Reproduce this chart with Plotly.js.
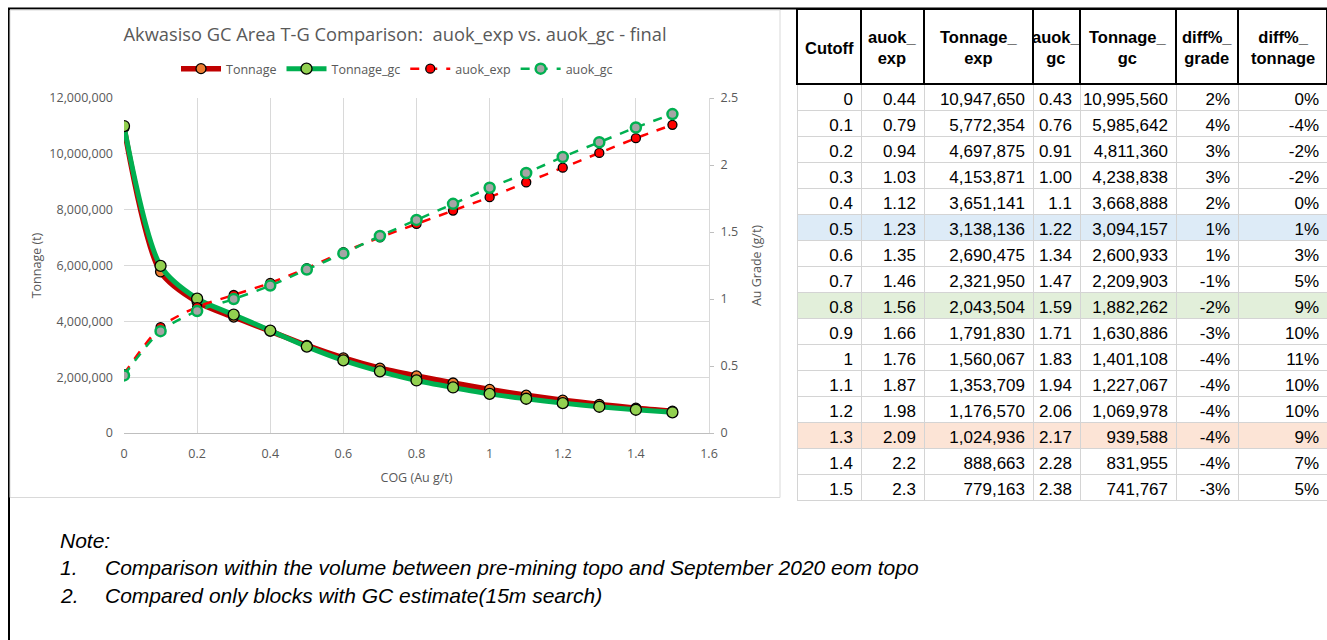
<!DOCTYPE html>
<html>
<head>
<meta charset="utf-8">
<script src="https://cdn.plot.ly/plotly-3.0.1.min.js"></script>
<style>html,body{margin:0;padding:0;background:#fff;}#chart{width:1327px;height:640px;}</style>
</head>
<body>
<div id="chart"></div>
<script>
// ---- data ----
const cutoff = [0, 0.1, 0.2, 0.3, 0.4, 0.5, 0.6, 0.7, 0.8, 0.9, 1, 1.1, 1.2, 1.3, 1.4, 1.5];
const auokExp = [0.44, 0.79, 0.94, 1.03, 1.12, 1.23, 1.35, 1.46, 1.56, 1.66, 1.76, 1.87, 1.98, 2.09, 2.2, 2.3];
const tonnageExp = [10947650, 5772354, 4697875, 4153871, 3651141, 3138136, 2690475, 2321950, 2043504, 1791830, 1560067, 1353709, 1176570, 1024936, 888663, 779163];
const auokGc = [0.43, 0.76, 0.91, 1.00, 1.1, 1.22, 1.34, 1.47, 1.59, 1.71, 1.83, 1.94, 2.06, 2.17, 2.28, 2.38];
const auokGcText = ["0.43", "0.76", "0.91", "1.00", "1.1", "1.22", "1.34", "1.47", "1.59", "1.71", "1.83", "1.94", "2.06", "2.17", "2.28", "2.38"];
const tonnageGc = [10995560, 5985642, 4811360, 4238838, 3668888, 3094157, 2600933, 2209903, 1882262, 1630886, 1401108, 1227067, 1069978, 939588, 831955, 741767];
const diffGrade = [2, 4, 3, 3, 2, 1, 1, -1, -2, -3, -4, -4, -4, -4, -4, -3];
const diffTonnage = [0, -4, -2, -2, 0, 1, 3, 5, 9, 10, 11, 10, 10, 9, 7, 5];
const tableHeaders = ["Cutoff", "auok_<br>exp", "Tonnage_<br>exp", "auok_<br>gc", "Tonnage_<br>gc", "diff%_<br>grade", "diff%_<br>tonnage"];
const highlightRows = {5: "#ddebf7", 8: "#e2efda", 13: "#fce4d6"};
const chartTitle = "Akwasiso GC Area T-G Comparison:  auok_exp vs. auok_gc - final";
const noteLines = ["Note:", "Comparison within the volume between pre-mining topo and September 2020 eom topo", "Compared only blocks with GC estimate(15m search)"];

// ---- geometry helpers (pixel -> paper) ----
const W = 1327, H = 640;
const px = v => v / W;
const py = v => 1 - v / H;

const gray = "#595959";
const chartFont = "Open Sans, sans-serif";
const tableFont = "Liberation Sans, Arial, sans-serif";

const fmt = v => v.toLocaleString("en-US");

const traces = [
  {
    type: "scatter", mode: "lines+markers", name: "Tonnage",
    x: cutoff, y: tonnageExp, xaxis: "x", yaxis: "y",
    line: {color: "#c00000", width: 5.5, shape: "spline", smoothing: 0.8},
    marker: {color: "#ed7d31", size: 10, line: {color: "#000", width: 1.3}}
  },
  {
    type: "scatter", mode: "lines+markers", name: "Tonnage_gc",
    x: cutoff, y: tonnageGc, xaxis: "x", yaxis: "y",
    line: {color: "#00b050", width: 5, shape: "spline", smoothing: 0.8},
    marker: {color: "#92d050", size: 11, line: {color: "#000", width: 1.3}}
  },
  {
    type: "scatter", mode: "lines+markers", name: "auok_exp",
    x: cutoff, y: auokExp, xaxis: "x", yaxis: "y2",
    line: {color: "#ff0000", width: 2.5, dash: "dash", shape: "spline", smoothing: 0.8},
    marker: {color: "#ff0000", size: 9, line: {color: "#000", width: 1.3}}
  },
  {
    type: "scatter", mode: "lines+markers", name: "auok_gc",
    x: cutoff, y: auokGc, xaxis: "x", yaxis: "y2",
    line: {color: "#00b050", width: 2.5, dash: "dash", shape: "spline", smoothing: 0.8},
    marker: {color: "#a5a5a5", size: 10, line: {color: "#00b050", width: 2.5}}
  }
];

// table
const tableX0 = 797, tableX1 = 1327, tableTop = 9, headerH = 75;
const colWidths = [64, 63, 109, 47, 96, 62, 89];
const rowFill = cutoff.map((_, i) => highlightRows[i] || "#ffffff");
const tableCols = [
  cutoff.map(v => String(v)),
  auokExp.map(v => String(v)),
  tonnageExp.map(fmt),
  auokGcText,
  tonnageGc.map(fmt),
  diffGrade.map(v => v + "%"),
  diffTonnage.map(v => v + "%")
];
traces.push({
  type: "table",
  domain: {x: [px(tableX0), px(tableX1)], y: [py(501), py(tableTop)]},
  columnwidth: colWidths,
  header: {
    values: tableHeaders.map(() => ""),
    align: "center", height: headerH,
    line: {color: "#000000", width: 1.3},
    fill: {color: "#ffffff"},
    font: {family: tableFont, size: 16, color: "#000"}
  },
  cells: {
    values: tableCols,
    align: "right", height: 26,
    line: {color: "#d4d4d4", width: 1},
    fill: {color: tableCols.map(() => rowFill)},
    font: {family: tableFont, size: 17, color: "#000"}
  }
});

const annotations = [];
// header labels centred in their header cells
let cx = tableX0;
tableHeaders.forEach((h, i) => {
  const mid = cx + colWidths[i] / 2;
  cx += colWidths[i];
  annotations.push({
    text: "<b>" + h + "</b>", x: px(mid), y: py(tableTop + headerH / 2 + 1),
    xref: "paper", yref: "paper", xanchor: "center", yanchor: "middle", align: "center",
    showarrow: false, font: {family: tableFont, size: 16.5, color: "#000"}
  });
});
const noteFont = {family: tableFont, size: 21, color: "#000"};
[[58, 540, noteLines[0]], [58, 567, "1."], [103, 567, noteLines[1]], [58, 595, "2."], [103, 595, noteLines[2]]].forEach(n => {
  annotations.push({text: "<i>" + n[2] + "</i>", x: px(n[0]), y: py(n[1]), xref: "paper", yref: "paper", xanchor: "left", yanchor: "middle", showarrow: false, font: noteFont});
});

const shapes = [
  {type: "rect", xref: "paper", yref: "paper", x0: px(9), x1: px(1330), y0: py(645), y1: py(8.5), line: {color: "#000", width: 2}},
  {type: "rect", xref: "paper", yref: "paper", x0: px(10), x1: px(780), y0: py(497.5), y1: py(10), line: {color: "#d9d9d9", width: 1}}
];

const tickFont = {family: chartFont, size: 12.5, color: gray};
const axTitleFont = {family: chartFont, size: 12.5, color: gray};

const layout = {
  width: W, height: H,
  margin: {l: 0, r: 0, t: 0, b: 0},
  paper_bgcolor: "#fff", plot_bgcolor: "#fff",
  font: {family: chartFont, color: gray},
  title: {text: chartTitle, x: px(395), xanchor: "center", xref: "paper", y: py(35), yanchor: "middle", yref: "paper", font: {family: chartFont, size: 18.3, color: gray}},
  showlegend: true,
  legend: {orientation: "h", x: px(397), xanchor: "center", y: py(69), yanchor: "middle", font: {family: chartFont, size: 12.5, color: gray}, itemwidth: 40, bgcolor: "rgba(0,0,0,0)", traceorder: "normal"},
  xaxis: {
    domain: [px(124), px(709)], range: [0, 1.6], dtick: 0.2, tick0: 0,
    showgrid: true, gridcolor: "#d9d9d9", zeroline: false,
    showline: true, linecolor: "#bfbfbf", ticks: "", ticklabelstandoff: 9,
    tickfont: tickFont,
    title: {text: "COG (Au g/t)", font: axTitleFont, standoff: 12},
    fixedrange: true
  },
  yaxis: {
    domain: [py(433), py(98)], range: [0, 12000000], dtick: 2000000,
    tickformat: ",", showgrid: true, gridcolor: "#d9d9d9", zeroline: false,
    showline: false, ticks: "", ticklabelstandoff: 10,
    tickfont: tickFont,
    title: {text: "Tonnage (t)", font: axTitleFont, standoff: 4},
    fixedrange: true
  },
  yaxis2: {
    overlaying: "y", side: "right", range: [0, 2.5], dtick: 0.5,
    showgrid: false, zeroline: false, showline: true, linecolor: "#d9d9d9",
    ticks: "outside", ticklen: 4, tickcolor: "#bfbfbf", ticklabelstandoff: 4,
    tickfont: tickFont,
    title: {text: "Au Grade (g/t)", font: axTitleFont, standoff: 15},
    fixedrange: true
  },
  annotations: annotations,
  shapes: shapes
};

Plotly.newPlot("chart", traces, layout, {displayModeBar: false, staticPlot: true});
</script>
</body>
</html>
